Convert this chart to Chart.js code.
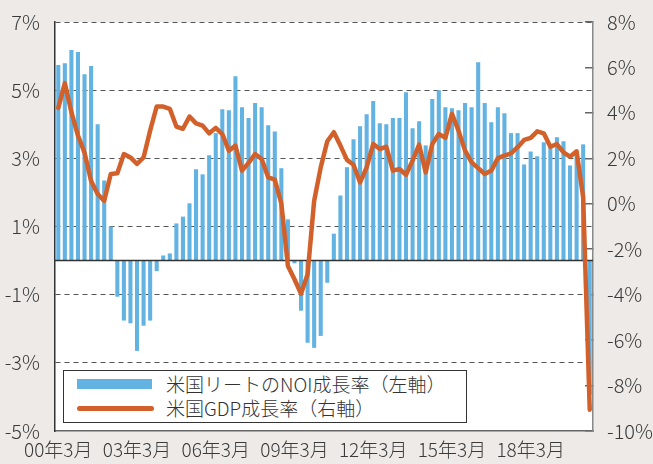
<!DOCTYPE html>
<html><head><meta charset="utf-8">
<script src="https://cdn.jsdelivr.net/npm/chart.js@4.4.1/dist/chart.umd.min.js"></script>
<style>
html,body{margin:0;padding:0;background:#eeeae7;}
#wrap{position:relative;width:653px;height:464px;overflow:hidden;}
canvas{position:absolute;left:0;top:0;}
#legend{position:absolute;left:63px;top:370px;width:402px;height:51px;border:1.5px solid #333;background:#fff;font-family:"Noto Sans CJK JP",sans-serif;font-weight:300;font-size:19px;color:#333;}
.row{position:absolute;left:0;width:100%;height:24px;line-height:24px;white-space:nowrap;}
.sw{position:absolute;}
.txt{position:absolute;left:102px;top:0;}
</style>
</head><body>
<div id="wrap">
<canvas id="c" width="653" height="464"></canvas>
<div id="legend">
  <div class="row" style="top:1px"><span class="sw" id="sw1" style="left:13px;top:7px;width:75px;height:10px;"></span><span class="txt" id="t1"></span></div>
  <div class="row" style="top:25px"><span class="sw" id="sw2" style="left:13px;top:10px;width:77px;height:4.5px;border-radius:3px;"></span><span class="txt" id="t2"></span></div>
</div>
</div>
<script>
const categories = [
 "00年3月","00年6月","00年9月","00年12月","01年3月","01年6月","01年9月","01年12月",
 "02年3月","02年6月","02年9月","02年12月","03年3月","03年6月","03年9月","03年12月",
 "04年3月","04年6月","04年9月","04年12月","05年3月","05年6月","05年9月","05年12月",
 "06年3月","06年6月","06年9月","06年12月","07年3月","07年6月","07年9月","07年12月",
 "08年3月","08年6月","08年9月","08年12月","09年3月","09年6月","09年9月","09年12月",
 "10年3月","10年6月","10年9月","10年12月","11年3月","11年6月","11年9月","11年12月",
 "12年3月","12年6月","12年9月","12年12月","13年3月","13年6月","13年9月","13年12月",
 "14年3月","14年6月","14年9月","14年12月","15年3月","15年6月","15年9月","15年12月",
 "16年3月","16年6月","16年9月","16年12月","17年3月","17年6月","17年9月","17年12月",
 "18年3月","18年6月","18年9月","18年12月","19年3月","19年6月","19年9月","19年12月",
 "20年3月","20年6月"
];
const noiGrowth = [
 5.74, 5.79, 6.18, 6.12, 5.47, 5.71, 4.00, 2.35, 1.00, -1.06,
 -1.76, -1.84, -2.65, -1.91, -1.76, -0.31, 0.15, 0.21, 1.09, 1.29,
 1.68, 2.68, 2.53, 3.09, 3.74, 4.44, 4.41, 5.41, 4.50, 4.18,
 4.62, 4.50, 3.97, 3.79, 2.71, 1.21, -0.08, -1.47, -2.41, -2.56,
 -2.21, -0.65, 0.79, 1.91, 2.74, 3.56, 3.94, 4.29, 4.68, 4.03,
 4.00, 4.18, 4.18, 4.94, 3.88, 4.09, 3.38, 4.74, 5.00, 4.50,
 4.47, 4.41, 4.62, 4.50, 5.82, 4.62, 4.06, 4.50, 4.32, 3.74,
 3.74, 2.82, 3.20, 3.06, 3.47, 3.41, 3.62, 3.50, 2.79, 3.06,
 3.41, -3.94
];
const gdpGrowth = [
 4.22, 5.31, 4.03, 3.00, 2.25, 1.00, 0.43, 0.13, 1.31, 1.34,
 2.19, 2.04, 1.75, 2.04, 3.22, 4.28, 4.28, 4.18, 3.40, 3.30,
 3.84, 3.54, 3.44, 3.10, 3.34, 3.07, 2.34, 2.56, 1.46, 1.80,
 2.19, 1.97, 1.16, 1.06, 0.01, -2.74, -3.32, -3.96, -3.10, 0.13,
 1.60, 2.75, 3.15, 2.56, 1.93, 1.72, 0.94, 1.60, 2.63, 2.41,
 2.51, 1.46, 1.53, 1.28, 1.90, 2.60, 1.38, 2.63, 3.07, 2.90,
 3.96, 3.22, 2.34, 1.82, 1.57, 1.31, 1.46, 2.01, 2.12, 2.22,
 2.49, 2.81, 2.90, 3.19, 3.10, 2.51, 2.63, 2.26, 2.07, 2.31,
 0.28, -9.06
];
const seriesLabels = ["米国リートのNOI成長率（左軸）", "米国GDP成長率（右軸）"];
const leftRange = {min: -5, max: 7, step: 2};
const rightRange = {min: -10, max: 8, step: 2};
const labelEvery = 12;

const BAR = '#62b2e2', LINE = '#d2602a', TXT = '#3a3a3a';
const FONT = '"Noto Sans CJK JP", sans-serif';

document.getElementById('sw1').style.background = BAR;
document.getElementById('sw2').style.background = LINE;
document.getElementById('t1').textContent = seriesLabels[0];
document.getElementById('t2').textContent = seriesLabels[1];

const plotBg = {
  id: 'plotBg',
  beforeDraw(chart) {
    const {ctx, chartArea: a} = chart;
    ctx.save(); ctx.fillStyle = '#ffffff';
    ctx.fillRect(a.left, a.top, a.right - a.left, a.bottom - a.top);
    ctx.restore();
  }
};
const zeroLine = {
  id: 'zeroLine',
  afterDatasetDraw(chart, args) {
    if (args.meta.type !== 'bar') return;
    const {ctx, chartArea: a} = chart;
    const y = chart.scales.y.getPixelForValue(0);
    ctx.save(); ctx.strokeStyle = '#333'; ctx.lineWidth = 1.5;
    ctx.beginPath(); ctx.moveTo(a.left, y); ctx.lineTo(a.right, y); ctx.stroke();
    ctx.restore();
  }
};
const noPad = s => { s.paddingTop = 0; s.paddingBottom = 0; };

new Chart(document.getElementById('c'), {
  type: 'bar',
  data: {
    labels: categories,
    datasets: [
      {type: 'line', label: seriesLabels[1], data: gdpGrowth, yAxisID: 'y1', borderColor: LINE,
       borderWidth: 4.5, pointRadius: 0, tension: 0, order: 0, borderJoinStyle: 'round', borderCapStyle: 'round'},
      {type: 'bar', label: seriesLabels[0], data: noiGrowth, yAxisID: 'y', backgroundColor: BAR,
       categoryPercentage: 1, barPercentage: 0.62, order: 1}
    ]
  },
  options: {
    responsive: false, devicePixelRatio: 1, animation: false,
    layout: {padding: {top: 22, left: 0, right: 0, bottom: 0}},
    plugins: {legend: {display: false}, tooltip: {enabled: false}},
    scales: {
      x: {
        offset: true,
        grid: {display: false, drawTicks: false},
        border: {display: true, color: '#666', width: 1.5},
        ticks: {autoSkip: false, maxRotation: 0, minRotation: 0, padding: 7, color: TXT,
          font: {family: FONT, size: 19, weight: 300},
          callback: (v, i) => (i % labelEvery === 0 ? categories[i] : '')},
        afterFit: s => { s.height = 33; s.paddingLeft = 0; s.paddingRight = 0; }
      },
      y: {
        position: 'left', min: leftRange.min, max: leftRange.max,
        ticks: {stepSize: leftRange.step, padding: 15, color: TXT, font: {family: FONT, size: 20, weight: 300},
          callback: v => v + '%'},
        grid: {drawTicks: false, lineWidth: 1,
          color: ctx => (ctx.tick && ctx.tick.value === leftRange.min ? 'rgba(0,0,0,0)' : '#555')},
        border: {display: true, color: '#333', width: 1.5, dash: [5, 4]},
        afterFit: s => { s.width = 55; noPad(s); }
      },
      y1: {
        position: 'right', min: rightRange.min, max: rightRange.max,
        ticks: {stepSize: rightRange.step, padding: 22, color: TXT, font: {family: FONT, size: 20, weight: 300},
          callback: v => v + '%'},
        grid: {drawOnChartArea: false, drawTicks: true, tickLength: -8, color: '#666', lineWidth: 1.5},
        border: {display: true, color: '#888', width: 1.5},
        afterFit: s => { s.width = 60; noPad(s); }
      }
    }
  },
  plugins: [plotBg, zeroLine]
});
</script>
</body></html>
